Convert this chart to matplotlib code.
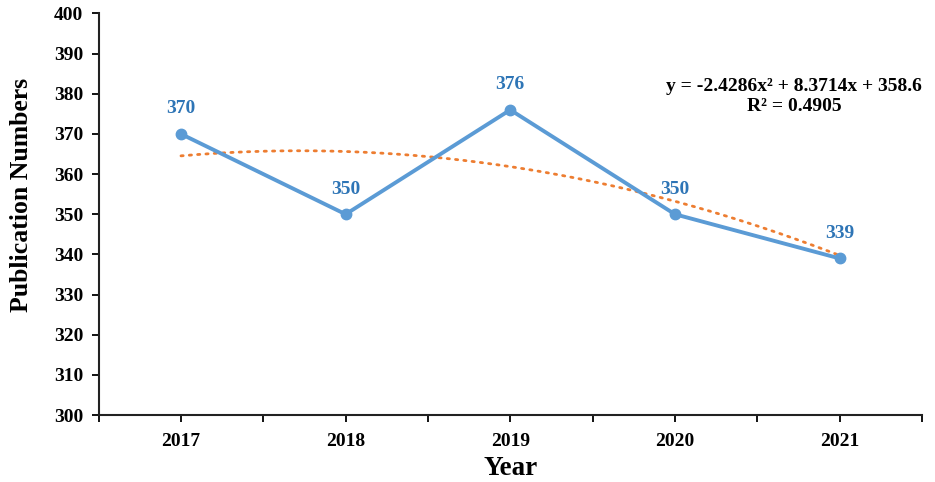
import numpy as np
import matplotlib.pyplot as plt
from matplotlib.ticker import FixedLocator

# data
years = ['2017', '2018', '2019', '2020', '2021']
pubs = [370, 350, 376, 350, 339]

plt.rcParams['font.family'] = ['Liberation Serif', 'DejaVu Serif']
plt.rcParams['font.weight'] = 'bold'

line_color = '#5B9BD5'
label_color = '#2E75B6'
trend_color = '#ED7D31'

fig = plt.figure(figsize=(9.35, 4.82), dpi=100)
ax = fig.add_axes([0.1055, 0.139, 0.8805, 0.833])

x = np.arange(1, len(years) + 1)
ax.plot(x, pubs, color=line_color, lw=2.8, marker='o', ms=7.5, zorder=3)

# polynomial trendline (order 2), like excel
coef = np.polyfit(x, pubs, 2)
xs = np.linspace(1, 5, 200)
ax.plot(xs, np.polyval(coef, xs), color=trend_color, lw=2, ls=(0, (0.8, 2.2)),
        dash_capstyle='round', zorder=2)

fitted = np.polyval(coef, x)
r2 = 1 - np.sum((np.array(pubs) - fitted) ** 2) / np.sum((np.array(pubs) - np.mean(pubs)) ** 2)

for xi, yi in zip(x, pubs):
    ax.annotate(str(yi), (xi, yi), xytext=(0, 12), textcoords='offset points',
                ha='center', va='bottom', color=label_color, fontsize=14, fontweight='bold')

ax.text(0.8446, 0.819, f'y = {coef[0]:.4f}x² + {coef[1]:.4f}x + {coef[2]:.1f}',
        transform=ax.transAxes, ha='center', va='center', fontsize=14, fontweight='bold')
ax.text(0.8446, 0.769, f'R² = {r2:.4f}', transform=ax.transAxes,
        ha='center', va='center', fontsize=14, fontweight='bold')

ax.set_xlim(0.5, 5.5)
ax.set_ylim(300, 400)
ax.set_yticks(np.arange(300, 401, 10))
ax.set_xticks(x)
ax.set_xticklabels(years)
ax.xaxis.set_minor_locator(FixedLocator(np.arange(0.5, 5.6, 1)))
ax.tick_params(axis='both', labelsize=14, width=1.3, length=5, direction='out')
ax.tick_params(axis='x', which='both', width=1.3, length=5, pad=8)
ax.tick_params(axis='y', pad=6)

for s in ['top', 'right']:
    ax.spines[s].set_visible(False)
for s in ['left', 'bottom']:
    ax.spines[s].set_linewidth(1.5)
    ax.spines[s].set_color('#222222')

ax.set_ylabel('Publication Numbers', fontsize=18.5, fontweight='bold')
ax.yaxis.set_label_coords(-0.08, 0.548)
ax.set_xlabel('Year', fontsize=19.5, fontweight='bold', labelpad=4)

fig.savefig('out.png', dpi=100)
